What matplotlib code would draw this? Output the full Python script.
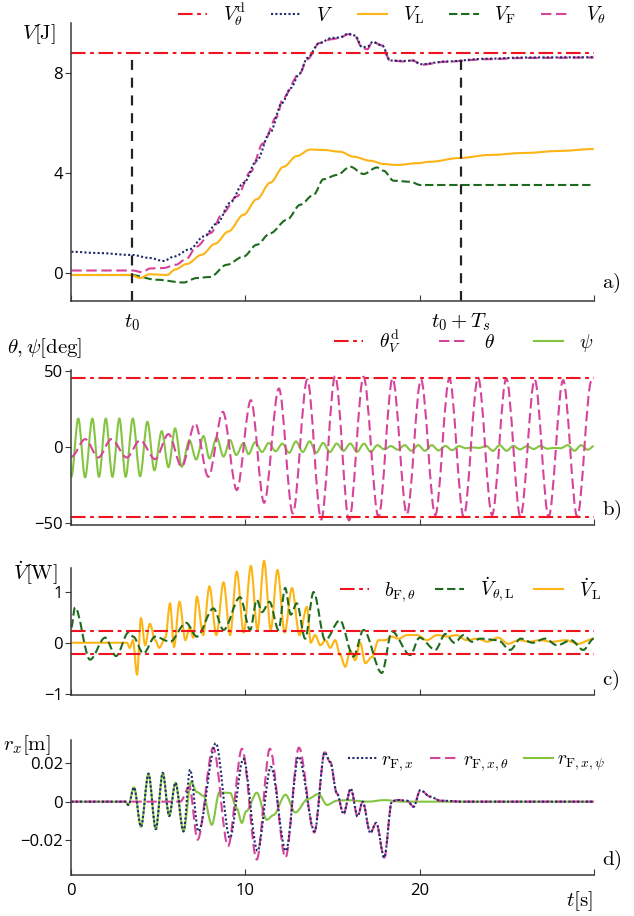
import matplotlib
matplotlib.use('Agg')
import matplotlib.pyplot as plt
from matplotlib.path import Path
from matplotlib.patches import PathPatch
from matplotlib.lines import Line2D

plt.rcParams['mathtext.fontset'] = 'cm'
plt.rcParams['font.family'] = ['Open Sans', 'DejaVu Sans']
plt.rcParams['axes.unicode_minus'] = True

# ---------- data ----------
t0 = 3.5
t0_Ts = 22.35

# a) energies
Vd_theta = 8.8
tV = [0, 1.5, 3.5, 4.5, 5.3, 5.9, 6.8, 7.6, 8.4, 9.1, 9.9, 10.65, 11.4, 12.1, 12.6, 13.1, 13.55,
      14.25, 14.95, 15.4, 15.9, 16.3, 16.7, 17.0, 17.3, 17.85, 18.3, 19.1, 19.6, 20.1, 21.5, 23.8, 26.1, 30]
V = [0.85, 0.8, 0.72, 0.6, 0.48, 0.66, 0.95, 1.46, 2.0, 2.8, 3.6, 4.5, 5.6, 6.8, 7.4, 7.97, 8.6,
     9.2, 9.4, 9.42, 9.57, 9.5, 9.03, 9.05, 9.24, 9.1, 8.5, 8.48, 8.5, 8.35, 8.46, 8.57, 8.62, 8.63]
tVth = [0, 3.5, 4.1, 4.5, 5.3, 6.0, 6.6, 7.2, 8.0, 8.7, 9.5, 10.3, 11.0, 11.8, 12.15, 13.1, 13.55,
        14.25, 14.95, 15.4, 15.9, 16.3, 16.7, 17.0, 17.3, 17.85, 18.3, 19.1, 19.6, 20.1, 21.5, 23.8, 26.1, 30]
Vth = [0.1, 0.1, 0.03, 0.18, 0.2, 0.33, 0.56, 1.06, 1.6, 2.4, 3.06, 4.05, 5.18, 6.25, 7.0, 7.97, 8.55,
       9.2, 9.35, 9.4, 9.55, 9.45, 9.0, 8.95, 9.25, 9.1, 8.5, 8.46, 8.5, 8.33, 8.45, 8.55, 8.6, 8.62]
tVL = [0, 3.4, 3.95, 4.5, 5.5, 5.96, 6.63, 7.49, 8.26, 9.02, 9.89, 10.65, 11.42, 12.19, 12.95, 13.72,
       14.48, 15.44, 16.21, 17.17, 17.93, 18.7, 19.85, 20.61, 22.3, 24, 26, 28, 30]
VL = [-0.08, -0.08, -0.2, -0.05, -0.08, 0.14, 0.36, 0.73, 1.17, 1.66, 2.33, 2.95, 3.61, 4.25, 4.68, 4.94,
      4.92, 4.85, 4.65, 4.49, 4.36, 4.32, 4.39, 4.45, 4.6, 4.72, 4.8, 4.88, 4.96]
tVF = [0, 3.4, 4.9, 6.44, 7.21, 7.97, 8.93, 9.89, 10.65, 11.42, 12.38, 13.15, 13.91, 14.48, 15.25, 16.02,
       16.78, 17.55, 17.93, 18.51, 19.47, 20.04, 21, 30]
VF = [-0.08, -0.08, -0.27, -0.38, -0.2, -0.16, 0.33, 0.66, 1.13, 1.59, 2.13, 2.73, 3.13, 3.75, 3.92, 4.25,
      3.96, 4.22, 4.09, 3.69, 3.65, 3.52, 3.52, 3.52]

# b) angles
theta_d = 46
t_theta = [0, 0.8, 1.55, 2.3, 3.18, 3.95, 4.81, 5.58, 6.34, 7.11, 7.87, 8.7, 9.5, 10.31, 11.07, 11.92,
           12.72, 13.55, 14.35, 15.15, 15.95, 16.78, 17.64, 18.45, 19.27, 20.08, 20.9, 21.71, 22.53,
           23.36, 24.16, 24.98, 25.79, 26.61, 27.41, 28.24, 29.05, 29.87, 30]
theta = [-6.1, 5.5, -6.6, 5.5, -6.6, 4.8, -7.7, 8.8, -12.7, 15.8, -19.3, 23.5, -28, 31.1, -36.4, 38.8,
         -43.4, 44.7, -47.4, 47, -48, 46.5, -45.6, 45.4, -43.9, 44.7, -44.5, 45.4, -45.6,
         46, -44.5, 45.4, -45.6, 44.7, -45.6, 44.3, -45.6, 43.9, 43]
t_psi = [0, 0.4, 0.79, 1.21, 1.59, 1.98, 2.36, 2.76, 3.12, 3.53, 3.95, 4.37, 4.77, 5.19, 5.58, 5.96,
         6.34, 6.78, 7.17, 7.59, 7.93, 8.35, 8.74, 9.12, 9.47, 9.89, 10.17, 10.56, 10.95, 11.34, 11.73,
         12.12, 12.51, 12.9, 13.29, 13.68, 14.07, 14.46, 14.85, 15.24, 15.63, 16.02, 16.41, 16.8, 17.19,
         17.58, 17.97, 18.36, 18.75, 19.14, 19.53, 19.92, 20.31, 20.7, 21.09, 21.48, 21.87, 22.26, 22.65,
         23.04, 23.43, 23.82, 24.21, 24.6, 24.99, 25.38, 25.77, 26.16, 26.55, 26.94, 27.33, 27.72, 28.11,
         28.5, 28.89, 29.28, 29.67, 30]
psi = [-19.3, 19, -19.7, 19, -19.3, 19, -19.3, 19, -19.3, 19, -18.9, 16.9, -15, 10.7, -13, 12.5,
       -12.7, 4.8, -7.9, 7.5, -7.2, 6.6, -6, 4.8, -5, 3, -4.4, 3.5, -3, 3, -2.5,
       2.5, -3.5, 4, -3, 4, -3.5, 3, -3, 2.6, -2.2, 2.6, -2.9, 2.5, -2.9,
       1.5, -1.2, 0.9, -1.5, 1.5, -2.2, 1.5, -2.2, 1.5, -2.0, 1.0, -1.8, 0.9, -0.5,
       0.0, -0.3, 1.0, -2.2, 1.5, -2.2, 1.0, -1.3, 0.9, -1.0, 1.0, -0.8, -0.3, -0.5,
       1.5, -2.2, 1.5, -1.5, 0.9]

# c) power
b_F = 0.22
t_VL_dot = [0, 3.2, 3.35, 3.54, 3.77, 4.0, 4.24, 4.51, 4.82, 5.05, 5.4, 5.67, 5.9, 6.21, 6.55, 6.8, 7.0,
            7.21, 7.57, 7.93, 8.33, 8.74, 9.12, 9.5, 9.9, 10.31, 10.69, 11.07, 11.45, 11.84, 12.25,
            12.67, 13.1, 13.53, 13.75, 14.0, 14.3, 14.6, 14.87, 15.15, 15.44, 15.73, 16.02, 16.3, 16.59,
            16.88, 17.26, 17.64, 18.03, 18.41, 18.79, 19.27, 19.85, 20.42, 21.0, 21.6, 22.1, 22.7, 23.3,
            23.9, 24.5, 25.1, 25.7, 26.3, 26.9, 27.6, 28.4, 29.1, 30]
VL_dot = [0, 0, -0.1, 0.05, -0.62, 0.48, -0.05, 0.37, 0.05, -0.1, 0.1, 0.77, -0.08, 0.8, 0.05, 0.3, 0.1,
          0.9, 0.15, 1.1, 0.15, 1.18, 0.15, 1.39, 0.2, 1.5, 0.25, 1.6, 0.25, 1.42, 0.2,
          1.07, 0.15, 0.7, 0.0, 0.15, -0.05, 0.05, -0.1, 0.05, -0.24, -0.47, -0.15, -0.34, 0.0,
          -0.4, -0.28, 0.05, 0.05, 0.12, 0.08, 0.15, 0.15, 0.05, 0.15, 0.12, 0.15, 0.05, 0.08,
          0.02, 0.1, -0.02, 0.05, 0.02, 0.05, 0.02, 0.05, -0.02, 0.08]
t_Vth_dot = [0, 0.21, 1.07, 1.94, 2.57, 3.28, 3.55, 4.14, 4.81, 5.67, 6.59, 7.21, 8.16, 8.74, 9.69, 10.27,
             10.65, 10.95, 11.38, 11.9, 12.28, 12.6, 12.95, 13.43, 13.91, 14.58, 15.42, 16.2, 16.78, 17.83,
             18.41, 19.46, 20.0, 20.9, 21.48, 22.0, 22.53, 23.0, 23.5, 24.5, 25.2, 25.8, 26.5, 27.2, 27.9,
             28.7, 29.4, 30]
Vth_dot = [0.3, 0.69, -0.33, 0.1, -0.26, 0.2, 0.12, -0.21, 0.12, 0.02, 0.39, 0.12, 0.67, 0.25, 0.89, 0.25,
           0.84, 0.6, 0.8, 0.25, 1.07, 0.55, 0.77, 0.08, 0.99, 0.05, 0.44, -0.27, 0.25, -0.59,
           0.22, -0.24, 0.1, -0.14, 0.17, 0.0, 0.15, 0.02, 0.08, 0.05, -0.14, 0.08, 0.0, 0.08, -0.05,
           0.05, -0.14, 0.08]

# d) displacement
t_r_tail = [14.87, 15.25, 15.63, 16.05, 16.44, 16.73, 17.17, 17.51, 17.97, 18.41, 18.7, 19.27, 19.66,
            20.04, 20.61, 21.19, 22.5, 30]
r_tail = [0.0205, 0.0043, -0.0063, 0.0068, -0.0077, 0.0, -0.0162, -0.011, -0.029, 0.0, 0.0009, 0.0005,
          -0.0026, 0.006, 0.0026, 0.0005, 0.0, 0.0]
t_r_psi = [0, 3.1, 3.28, 3.6, 4.0, 4.43, 4.85, 5.25, 5.62, 5.98, 6.44, 6.88, 7.2, 7.59, 8.07, 8.5, 9.12,
           9.5, 9.79, 10.04, 10.65, 11.23, 11.6, 12.3, 12.86, 13.6, 14.2, 14.68, 15.25, 15.83, 17, 18, 19,
           20, 21, 30]
r_psi = [0, 0, -0.0017, 0.0074, -0.013, 0.0145, -0.0142, 0.0149, -0.0074, 0.0098, -0.0154, 0.0103, 0.005,
         0.003, -0.012, 0.0048, 0.0045, -0.0034, -0.011, -0.005, 0.0046, -0.0094, -0.007, 0.0036, -0.0056,
         0.0015, 0.004, -0.0017, 0.0005, 0.0008, 0.0, 0.0008, 0.0, 0.0, 0.0, 0.0]
t_r_x_head = [0, 3.1, 3.28, 3.6, 4.0, 4.43, 4.85, 5.25, 5.62, 5.98, 6.44, 6.82, 7.3, 8.3, 9.1, 9.88, 10.69,
              11.46, 12.32, 13.05, 13.97, 14.55]
r_x_head = [0, 0, -0.0017, 0.0074, -0.013, 0.0145, -0.0142, 0.0149, -0.0074, 0.0098, -0.0154, 0.0166,
            -0.0154, 0.0303, -0.0188, 0.0222, -0.0255, 0.018, -0.0255, 0.0234, -0.0154, 0.0256]
t_r_th_head = [0, 6.25, 6.78, 7.25, 8.15, 9.0, 9.8, 10.65, 11.4, 12.3, 13.07, 13.95, 14.55]
r_th_head = [0, 0, 0.0077, -0.0197, 0.028, -0.023, 0.0274, -0.03, 0.0274, -0.029, 0.028, -0.016, 0.0256]

# ---------- style ----------
RED = '#f0141e'
NAVY = '#1c2a6b'
ORANGE = '#fdb515'
DGREEN = '#1e6b1e'
MAG = '#d6439b'
LGREEN = '#85c441'
SPINE = '#3a3a3a'
dashdot = (0, (7, 2.2, 1.8, 2.2))
dashed = (0, (5, 2.2))
fdashed = (0, (4, 1.8))
dotted = (0, (1, 1.1))
lw = 1.5


def curve(ax, t, y, clip=True, **kw):
    # smooth line through the read samples (flat tangent at every sample)
    verts = [(t[0], y[0])]
    codes = [Path.MOVETO]
    for i in range(1, len(t)):
        d = t[i] - t[i - 1]
        verts += [(t[i - 1] + d / 3, y[i - 1]), (t[i] - d / 3, y[i]), (t[i], y[i])]
        codes += [Path.CURVE4] * 3
    patch = PathPatch(Path(verts, codes), fill=False, lw=lw, capstyle='butt', **kw)
    patch.set_clip_on(clip)
    ax.add_patch(patch)
    return Line2D([], [], lw=lw, color=kw.get('edgecolor'), ls=kw.get('linestyle', '-'))


fig = plt.figure(figsize=(6.34, 9.16), dpi=100)
L, W = 0.1125, 0.824
ax_a = fig.add_axes([L, 0.6714, W, 0.3035])
ax_b = fig.add_axes([L, 0.4269, W, 0.1692])
ax_c = fig.add_axes([L, 0.2413, W, 0.1386])
ax_d = fig.add_axes([L, 0.0448, W, 0.1474])

for ax in (ax_a, ax_b, ax_c, ax_d):
    ax.spines[['top', 'right']].set_visible(False)
    for s in ('left', 'bottom'):
        ax.spines[s].set_color(SPINE)
        ax.spines[s].set_linewidth(1.1)
    ax.set_xlim(0, 30)
    ax.set_xticks([0, 10, 20, 30])
    ax.tick_params(axis='x', direction='in', length=4, color=SPINE, labelsize=12, pad=6)
    ax.tick_params(axis='y', direction='out', length=4, color=SPINE, labelsize=12, pad=2)
    ax.set_xticklabels([])

leg_kw = dict(frameon=False, fontsize=14, handlelength=1.5, handletextpad=0.8,
              columnspacing=1.3, borderaxespad=0, borderpad=0)

# a)
ax = ax_a
ax.set_ylim(-1.12, 10)
ax.set_yticks([0, 4, 8])
h_d = ax.axhline(Vd_theta, color=RED, lw=lw, ls=dashdot)
ax.vlines([t0, t0_Ts], -1.12, Vd_theta, colors='#222222', lw=1.6, linestyles=(0, (4.5, 3.5)))
h_F = curve(ax, tVF, VF, edgecolor=DGREEN, linestyle=fdashed)
h_L = curve(ax, tVL, VL, edgecolor=ORANGE)
h_th = curve(ax, tVth, Vth, edgecolor=MAG, linestyle=dashed)
h_V = curve(ax, tV, V, edgecolor=NAVY, linestyle=dotted)
ax.legend([h_d, h_V, h_L, h_F, h_th],
          [r'$V^{\mathrm{d}}_{\theta}$', r'$V$', r'$V_{\mathrm{L}}$', r'$V_{\mathrm{F}}$', r'$V_{\theta}$'],
          ncol=5, loc='center right', bbox_to_anchor=(0.955, 0.984),
          bbox_transform=fig.transFigure, **leg_kw)
ax.text(-0.9, 10.05, r'$V[\mathrm{J}]$', fontsize=15, ha='right', va='top')
ax.text(t0, -1.55, r'$t_0$', fontsize=15, ha='center', va='top')
ax.text(t0_Ts, -1.55, r'$t_0+T_s$', fontsize=15, ha='center', va='top')

# b)
ax = ax_b
ax.set_ylim(-51, 51)
ax.set_yticks([-50, 0, 50])
h_d = ax.axhline(theta_d, color=RED, lw=lw, ls=dashdot)
ax.axhline(-theta_d, color=RED, lw=lw, ls=dashdot)
h_psi = curve(ax, t_psi, psi, edgecolor=LGREEN)
h_th = curve(ax, t_theta, theta, edgecolor=MAG, linestyle=dashed)
ax.legend([h_d, h_th, h_psi], [r'$\theta^{\mathrm{d}}_{V}$', r'$\theta$', r'$\psi$'],
          ncol=3, loc='center right', bbox_to_anchor=(0.935, 0.627),
          bbox_transform=fig.transFigure, **{**leg_kw, 'columnspacing': 2.0})
ax.text(-3.7, 73, r'$\theta,\psi[\mathrm{deg}]$', fontsize=15, ha='left', va='top')

# c)
ax = ax_c
ax.set_ylim(-1.02, 1.46)
ax.set_yticks([-1, 0, 1])
h_b = ax.axhline(b_F, color=RED, lw=lw, ls=dashdot)
ax.axhline(-b_F, color=RED, lw=lw, ls=dashdot)
h_L = curve(ax, t_VL_dot, VL_dot, clip=False, edgecolor=ORANGE)
h_thL = curve(ax, t_Vth_dot, Vth_dot, edgecolor=DGREEN, linestyle=fdashed)
ax.legend([h_b, h_thL, h_L],
          [r'$b_{\mathrm{F},\theta}$', r'$\dot{V}_{\theta,\mathrm{L}}$', r'$\dot{V}_{\mathrm{L}}$'],
          ncol=3, loc='center right', bbox_to_anchor=(0.948, 0.356),
          bbox_transform=fig.transFigure, **{**leg_kw, 'columnspacing': 1.0})
ax.text(-0.8, 1.62, r'$\dot{V}[\mathrm{W}]$', fontsize=15, ha='right', va='top')

# d)
ax = ax_d
ax.set_ylim(-0.038, 0.032)
ax.set_yticks([-0.02, 0, 0.02])
ax.set_yticklabels(['\u22120.02', '0', '0.02'])
ax.set_xticklabels(['0', '10', '20', ''])
h_psi = curve(ax, t_r_psi, r_psi, edgecolor=LGREEN)
h_th = curve(ax, t_r_th_head + t_r_tail, r_th_head + r_tail, edgecolor=MAG, linestyle=dashed)
h_x = curve(ax, t_r_x_head + t_r_tail, r_x_head + r_tail, edgecolor=NAVY, linestyle=dotted)
ax.legend([h_x, h_th, h_psi],
          [r'$r_{\mathrm{F},x}$', r'$r_{\mathrm{F},x,\theta}$', r'$r_{\mathrm{F},x,\psi}$'],
          ncol=3, loc='center right', bbox_to_anchor=(0.955, 0.168),
          bbox_transform=fig.transFigure, **{**leg_kw, 'handletextpad': 0.2, 'columnspacing': 0.8})
ax.text(-1.2, 0.0355, r'$r_x[\mathrm{m}]$', fontsize=15, ha='right', va='top')
ax.text(29.2, -0.0455, r'$t[\mathrm{s}]$', fontsize=15, ha='center', va='top')

# panel letters
for ax, letter in ((ax_a, 'a)'), (ax_b, 'b)'), (ax_c, 'c)'), (ax_d, 'd)')):
    ax.text(1.015, 0.02, r'$\mathrm{' + letter + '}$', transform=ax.transAxes, fontsize=15,
            ha='left', va='bottom')

fig.savefig('out.png', dpi=100)
